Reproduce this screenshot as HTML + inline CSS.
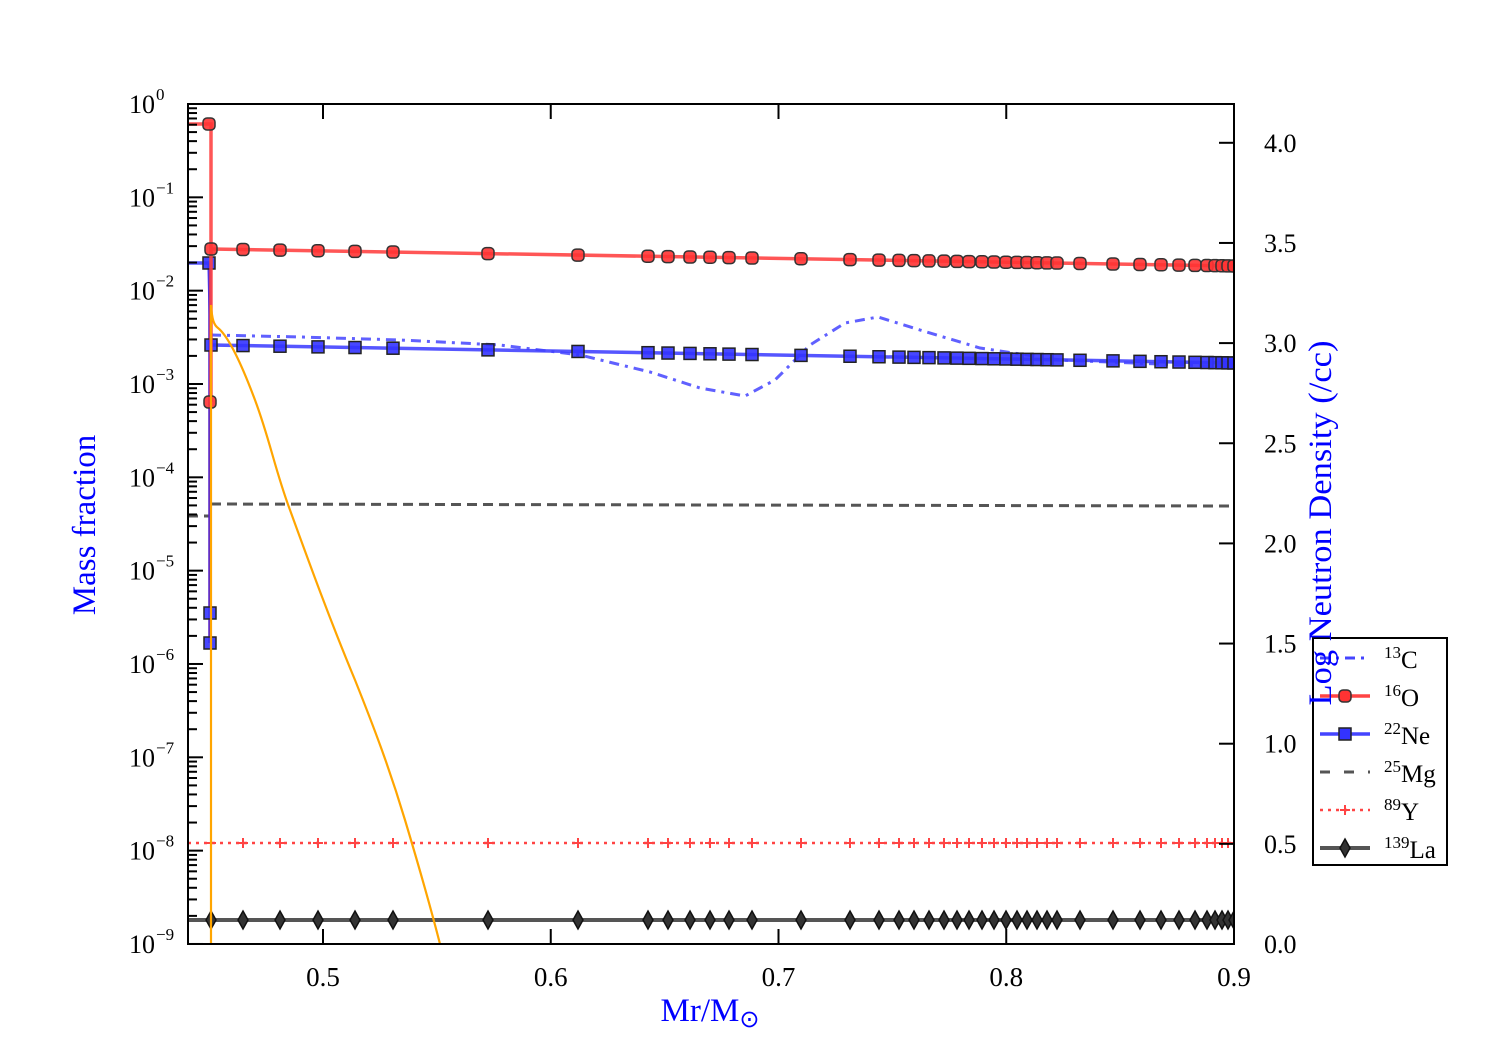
<!DOCTYPE html>
<html><head><meta charset="utf-8"><style>
body{margin:0;background:#fff}
text{font-family:"Liberation Serif",serif}
</style></head><body>
<svg id="s" width="1500" height="1050" xmlns="http://www.w3.org/2000/svg">
</svg>
<script>
const s=document.getElementById('s');let h='';
const X0=188,X1=1234,Y0=104,Y1=944;
const xp=v=>323+(v-0.5)*2277.5;
const ly=e=>104+(-e)*93.33;
const xs=[211,243,280,318,355,393,488,578,648,668,690,710,729,752,801,850,879,899,914,929,944,957,969,982,994,1006,1017,1027,1037,1047,1057,1080,1113,1140,1161,1179,1195,1207,1215,1222,1228,1234];
const lin=(x,a,b)=>a+(b-a)*(x-211)/(1234-211);
h+=`<defs><clipPath id="c"><rect x="${X0}" y="${Y0}" width="${X1-X0}" height="${Y1-Y0}"/></clipPath></defs><g clip-path="url(#c)">`;
const c=[[211,335],[300,337],[400,340],[500,345],[580,355],[650,372],[700,388],[745,396],[775,380],[810,345],[845,323],[878,317],[920,330],[980,348],[1060,360],[1234,367]];
h+=`<polyline points="${c.map(a=>a.join(',')).join(' ')}" fill="none" stroke="#4444ff" stroke-opacity="0.85" stroke-width="3" stroke-dasharray="10,6,3,6"/>`;
h+=`<line x1="188" y1="516" x2="209" y2="516" stroke="#555" stroke-width="3" stroke-dasharray="10,6"/><line x1="211" y1="504" x2="1234" y2="506" stroke="#555" stroke-width="3" stroke-dasharray="10,6"/><line x1="211" y1="504" x2="211" y2="944" stroke="#777" stroke-width="2" stroke-dasharray="6,4"/>`;
h+=`<line x1="188" y1="843" x2="1234" y2="843" stroke="#ff4444" stroke-width="2.5" stroke-dasharray="3,5"/><line x1="211" y1="843" x2="211" y2="944" stroke="#ff4444" stroke-width="2" stroke-dasharray="3,5"/>`;
for(const x of xs)h+=`<path d="M${x-5},843h10M${x},838v10" stroke="#ff4444" stroke-width="2"/>`;
h+=`<line x1="188" y1="920" x2="1234" y2="920" stroke="#555" stroke-width="4"/>`;
for(const x of xs)h+=`<path d="M${x},911l5,9l-5,9l-5,-9z" fill="#333" stroke="#111" stroke-width="1.5"/>`;
h+=`<polyline points="188,263 209,263 211,345 1234,363" fill="none" stroke="#4444ff" stroke-opacity="0.9" stroke-width="3.5"/><line x1="210" y1="263" x2="210" y2="643" stroke="#5522cc" stroke-width="3.5"/>`;
const ne=[[209,263],[210,613],[210,643]].concat(xs.map(x=>[x,lin(x,345,363)]));
for(const [x,y] of ne)h+=`<rect x="${x-6}" y="${y-6}" width="12" height="12" fill="#3333ff" fill-opacity="0.9" stroke="#222" stroke-width="1.5"/>`;
h+=`<polyline points="188,124 209,124 211,124 211,402" fill="none" stroke="#ff4444" stroke-opacity="0.9" stroke-width="3.5"/><line x1="211" y1="249" x2="1234" y2="266" stroke="#ff4444" stroke-opacity="0.9" stroke-width="3.5"/>`;
const o=[[209,124],[210,402]].concat(xs.map(x=>[x,lin(x,249,266)]));
for(const [x,y] of o)h+=`<rect x="${x-6}" y="${y-6}" width="12" height="12" rx="4" fill="#ff3333" fill-opacity="0.9" stroke="#333" stroke-width="1.5"/>`;
h+=`<path d="M211,944V305 C212,320 214,325 218,328 C228,336 240,360 255,400 C270,440 275,470 290,510 C310,565 330,620 355,680 C375,730 390,770 405,820 C420,870 430,905 440,944" fill="none" stroke="#ffa500" stroke-width="2.2"/>`;
h+=`</g>`;
h+=`<rect x="${X0}" y="${Y0}" width="${X1-X0}" height="${Y1-Y0}" fill="none" stroke="#000" stroke-width="2"/>`;
for(let i=0;i<5;i++){const x=xp(0.5+i*0.1);h+=`<path d="M${x},944v-15M${x},104v15" stroke="#000" stroke-width="2"/><text x="${x}" y="986" font-size="27" text-anchor="middle">${(0.5+i*0.1).toFixed(1)}</text>`;}
for(let e=0;e>=-9;e--){const y=ly(e);h+=`<path d="M188,${y}h15" stroke="#000" stroke-width="2"/><text x="155" y="${y+9}" font-size="26" text-anchor="end">10</text><text x="156" y="${y-4}" font-size="17">${e==0?'0':'−'+(-e)}</text>`;
if(e>-9)for(let m=2;m<10;m++){const yy=ly(e-1+Math.log10(m));h+=`<path d="M188,${yy}h9" stroke="#000" stroke-width="2"/>`;}}
for(let i=0;i<=8;i++){const v=i*0.5,y=944-v*200.3;h+=`<path d="M1234,${y}h-15" stroke="#000" stroke-width="2"/><text x="1264" y="${y+9}" font-size="26">${v.toFixed(1)}</text>`;}
h+=`<text x="710" y="1021" font-size="33" fill="#0000ff" text-anchor="middle">Mr/M<tspan font-size="24" dy="6">⊙</tspan></text>`;
h+=`<text transform="translate(95,525) rotate(-90)" font-size="33" fill="#0000ff" text-anchor="middle">Mass fraction</text>`;
h+=`<rect x="1313" y="638" width="134" height="227" fill="#fff" stroke="#000" stroke-width="2"/>`;
const L=[['13','C'],['16','O'],['22','Ne'],['25','Mg'],['89','Y'],['139','La']];
L.forEach((l,i)=>{const y=658+i*38;const x1=1320,x2=1370,xm=1345;
if(i==0)h+=`<line x1="${x1}" y1="${y}" x2="${x2}" y2="${y}" stroke="#4444ff" stroke-width="3" stroke-dasharray="10,6,3,6"/>`;
if(i==1)h+=`<line x1="${x1}" y1="${y}" x2="${x2}" y2="${y}" stroke="#ff4444" stroke-width="3.5"/><rect x="${xm-6}" y="${y-6}" width="12" height="12" rx="4" fill="#ff3333" stroke="#333" stroke-width="1.5"/>`;
if(i==2)h+=`<line x1="${x1}" y1="${y}" x2="${x2}" y2="${y}" stroke="#4444ff" stroke-width="3.5"/><rect x="${xm-6}" y="${y-6}" width="12" height="12" fill="#3333ff" stroke="#222" stroke-width="1.5"/>`;
if(i==3)h+=`<line x1="${x1}" y1="${y}" x2="${x2}" y2="${y}" stroke="#555" stroke-width="3" stroke-dasharray="10,14"/>`;
if(i==4)h+=`<line x1="${x1}" y1="${y}" x2="${x2}" y2="${y}" stroke="#ff4444" stroke-width="2.5" stroke-dasharray="3,5"/><path d="M${xm-5},${y}h10M${xm},${y-5}v10" stroke="#ff4444" stroke-width="2"/>`;
if(i==5)h+=`<line x1="${x1}" y1="${y}" x2="${x2}" y2="${y}" stroke="#555" stroke-width="4"/><path d="M${xm},${y-9}l5,9l-5,9l-5,-9z" fill="#333" stroke="#111" stroke-width="1.5"/>`;
h+=`<text x="1384" y="${y+10}" font-size="25"><tspan font-size="17" dy="-10">${l[0]}</tspan><tspan dy="10">${l[1]}</tspan></text>`;});
h+=`<text transform="translate(1331,523) rotate(-90)" font-size="33" fill="#0000ff" text-anchor="middle" textLength="365" lengthAdjust="spacingAndGlyphs">Log Neutron Density (/cc)</text>`;
s.innerHTML=h;
</script>
</body></html>
